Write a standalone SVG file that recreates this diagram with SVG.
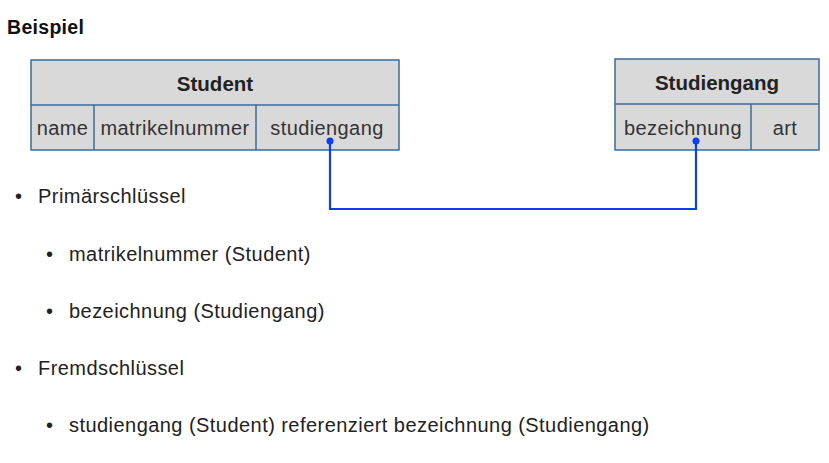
<svg xmlns="http://www.w3.org/2000/svg" width="829" height="463" viewBox="0 0 829 463">
<style>
.t{font-family:"Liberation Sans",Arial,sans-serif;fill:#111;}
.b{font-weight:bold;}
.box{fill:#d9d9d9;stroke:#3b6a9a;stroke-width:1.5;}
.cell{font-family:"Liberation Sans",Arial,sans-serif;fill:#333;font-size:20px;letter-spacing:0.4px;text-anchor:middle;}
.hd{font-family:"Liberation Sans",Arial,sans-serif;fill:#222;font-size:20.5px;font-weight:bold;text-anchor:middle;}
.li{font-family:"Liberation Sans",Arial,sans-serif;fill:#222;font-size:20px;letter-spacing:0.45px;}
.con{fill:none;stroke:#0a3cf0;stroke-width:2.2;}
</style>
<rect width="829" height="463" fill="#fff"/>
<text class="t b" x="7" y="34" font-size="19.5" letter-spacing="0.3">Beispiel</text>
<g id="student">
<rect class="box" x="31" y="60" width="368" height="90"/>
<line class="box" x1="31" y1="105" x2="399" y2="105"/>
<line class="box" x1="94" y1="105" x2="94" y2="150"/>
<line class="box" x1="256" y1="105" x2="256" y2="150"/>
<text class="hd" x="215" y="91">Student</text>
<text class="cell" x="62.5" y="135">name</text>
<text class="cell" x="175" y="135">matrikelnummer</text>
<text class="cell" x="327" y="135">studiengang</text>
</g>
<g id="studiengang">
<rect class="box" x="615" y="59" width="204" height="91"/>
<line class="box" x1="615" y1="104" x2="819" y2="104"/>
<line class="box" x1="751" y1="104" x2="751" y2="150"/>
<text class="hd" x="717" y="90">Studiengang</text>
<text class="cell" x="683" y="135">bezeichnung</text>
<text class="cell" x="785" y="135">art</text>
</g>
<g id="connectors">
<polyline class="con" points="330,141 330,209 696,209 696,141"/>
<circle cx="330" cy="141" r="3.5" fill="#0a3cf0"/>
<circle cx="696" cy="141" r="3.5" fill="#0a3cf0"/>
</g>
<g id="list">
<text class="li" x="15" y="203">•</text>
<text class="li" x="38" y="203">Primärschlüssel</text>
<text class="li" x="46" y="261">•</text>
<text class="li" x="69" y="261">matrikelnummer (Student)</text>
<text class="li" x="46" y="318">•</text>
<text class="li" x="69" y="318">bezeichnung (Studiengang)</text>
<text class="li" x="15" y="375">•</text>
<text class="li" x="38" y="375">Fremdschlüssel</text>
<text class="li" x="46" y="432">•</text>
<text class="li" x="69" y="432">studiengang (Student) referenziert bezeichnung (Studiengang)</text>
</g>
</svg>
